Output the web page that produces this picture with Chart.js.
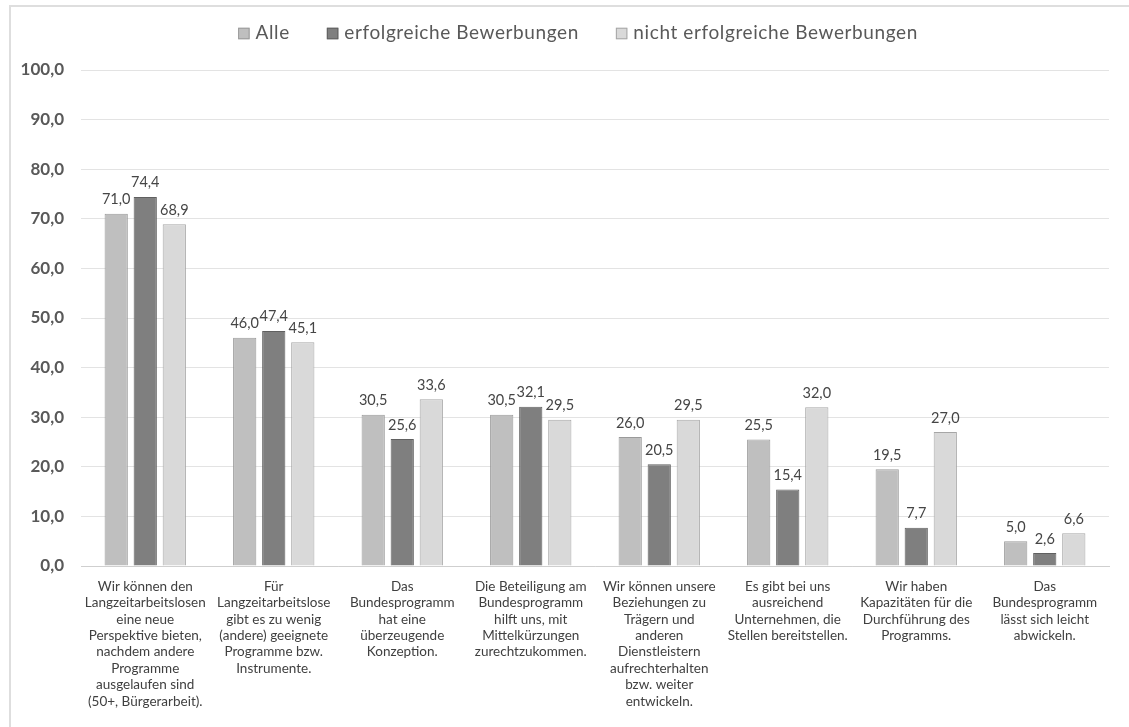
<!DOCTYPE html>
<html><head><meta charset="utf-8">
<script src="https://cdn.jsdelivr.net/npm/chart.js@4/dist/chart.umd.min.js"></script>
<style>
html,body{margin:0;padding:0;background:#fff;overflow:hidden;}
#frame{position:absolute;left:9px;top:5px;width:1200px;height:800px;border:2px solid #dedede;box-sizing:border-box;}
#wrap{position:absolute;left:0;top:0;width:1129px;height:727px;}
</style></head>
<body>
<div id="frame"></div>
<div id="wrap"><canvas id="c" width="1129" height="727"></canvas></div>
<script>
const categories = [
  ["Wir können den","Langzeitarbeitslosen","eine neue","Perspektive bieten,","nachdem andere","Programme","ausgelaufen sind","(50+, Bürgerarbeit)."],
  ["Für","Langzeitarbeitslose","gibt es zu wenig","(andere) geeignete","Programme bzw.","Instrumente."],
  ["Das","Bundesprogramm","hat eine","überzeugende","Konzeption."],
  ["Die Beteiligung am","Bundesprogramm","hilft uns, mit","Mittelkürzungen","zurechtzukommen."],
  ["Wir können unsere","Beziehungen zu","Trägern und","anderen","Dienstleistern","aufrechterhalten","bzw. weiter","entwickeln."],
  ["Es gibt bei uns","ausreichend","Unternehmen, die","Stellen bereitstellen."],
  ["Wir haben","Kapazitäten für die","Durchführung des","Programms."],
  ["Das","Bundesprogramm","lässt sich leicht","abwickeln."]
];
const seriesNames = ["Alle","erfolgreiche Bewerbungen","nicht erfolgreiche Bewerbungen"];
const alle = [71.0, 46.0, 30.5, 30.5, 26.0, 25.5, 19.5, 5.0];
const erfolgreich = [74.4, 47.4, 25.6, 32.1, 20.5, 15.4, 7.7, 2.6];
const nichtErfolgreich = [68.9, 45.1, 33.6, 29.5, 29.5, 32.0, 27.0, 6.6];
const yTicks = [0,10,20,30,40,50,60,70,80,90,100];
const fills = ['#bfbfbf','#7f7f7f','#d9d9d9'];
const borders = ['#9a9a9a','#606060','#a6a6a6'];

const fmt = v => v.toFixed(1).replace('.', ',');

const legendHeight = {
  id:'legendHeight',
  beforeInit(chart){
    const orig = chart.legend.fit;
    chart.legend.fit = function(){ orig.bind(chart.legend)(); this.height = 56; };
  }
};
const customLegend = {
  id:'customLegend',
  afterDraw(chart){
    const ctx = chart.ctx;
    ctx.save();
    ctx.font = '19px Lato';
    try { ctx.letterSpacing = '0.6px'; } catch(e) {}
    const box = 11.5, gapText = 6, gapItem = 37, cy = 33, cx = 578;
    const widths = chart.data.datasets.map(ds => ctx.measureText(ds.label).width);
    const total = widths.reduce((a,w) => a + box + gapText + w, 0) + gapItem * (widths.length - 1);
    let x = cx - total / 2;
    ctx.textBaseline = 'middle';
    ctx.textAlign = 'left';
    chart.data.datasets.forEach((ds, i) => {
      ctx.fillStyle = ds.backgroundColor;
      ctx.strokeStyle = ds.borderColor;
      ctx.lineWidth = 1;
      ctx.fillRect(x, cy - box / 2 + 0.5, box, box);
      ctx.strokeRect(x + 0.5, cy - box / 2 + 1, box - 1, box - 1);
      ctx.fillStyle = '#595959';
      ctx.fillText(ds.label, x + box + gapText, cy);
      x += box + gapText + widths[i] + gapItem;
    });
    ctx.restore();
  }
};
const dataLabels = {
  id:'dataLabels',
  afterDatasetsDraw(chart){
    const ctx = chart.ctx;
    ctx.save();
    ctx.font = '14.5px Lato';
    ctx.fillStyle = '#454545';
    ctx.textAlign = 'center';
    ctx.textBaseline = 'alphabetic';
    chart.data.datasets.forEach((ds, i) => {
      chart.getDatasetMeta(i).data.forEach((el, j) => {
        ctx.fillText(fmt(ds.data[j]), el.x, el.y - 9.5);
      });
    });
    ctx.restore();
  }
};

new Chart(document.getElementById('c'), {
  type:'bar',
  data:{
    labels: categories,
    datasets:[
      {label:seriesNames[0], data:alle, backgroundColor:fills[0], borderColor:borders[0], borderWidth:1},
      {label:seriesNames[1], data:erfolgreich, backgroundColor:fills[1], borderColor:borders[1], borderWidth:1},
      {label:seriesNames[2], data:nichtErfolgreich, backgroundColor:fills[2], borderColor:borders[2], borderWidth:1}
    ]
  },
  options:{
    responsive:false,
    animation:false,
    layout:{padding:{top:14,right:20,bottom:0,left:0}},
    datasets:{bar:{categoryPercentage:0.678, barPercentage:0.80}},
    plugins:{
      legend:{
        position:'top',
        labels:{generateLabels:() => []}
      },
      tooltip:{enabled:false}
    },
    scales:{
      x:{
        grid:{display:false},
        border:{color:'#cfcfcf', width:1},
        ticks:{color:'#404040', font:{family:'Lato', size:13.5, lineHeight:1.22}, maxRotation:0, minRotation:0, autoSkip:false, padding:4},
        afterFit(s){ s.height = 161; }
      },
      y:{
        min:0, max:100,
        afterBuildTicks(s){ s.ticks = yTicks.map(v => ({value:v})); },
        grid:{color:'#e3e3e3', drawTicks:false},
        border:{display:false},
        ticks:{color:'#595959', font:{family:'Lato', size:17, weight:'bold'}, padding:17, callback:v => fmt(v)},
        afterFit(s){ s.width = 81; }
      }
    }
  },
  plugins:[legendHeight, dataLabels, customLegend]
});
</script>
</body></html>
